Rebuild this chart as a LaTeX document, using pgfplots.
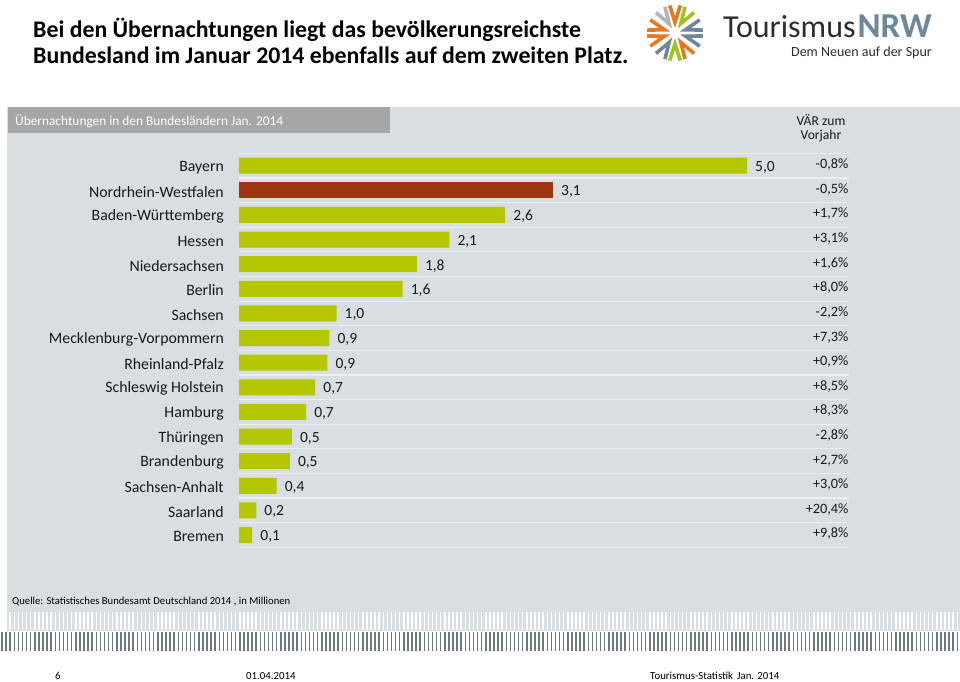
\documentclass[border=0pt]{standalone}
\usepackage{pgfplots}
\pgfplotsset{compat=1.18}
\usepackage{pgfplotstable}
\usepackage{fontspec}
\setmainfont{Carlito}
\definecolor{panelbg}{RGB}{217,222,226}
\definecolor{headgray}{RGB}{166,166,166}
\definecolor{barGreen}{RGB}{181,199,0}
\definecolor{barRust}{RGB}{160,52,16}
\definecolor{sepline}{RGB}{236,239,241}
\definecolor{stripedark}{RGB}{110,122,130}
\definecolor{textdark}{RGB}{25,25,25}
\definecolor{slate}{RGB}{110,135,155}
\definecolor{logogray}{RGB}{45,45,45}
\definecolor{logoorange}{RGB}{232,120,30}
\definecolor{logogreen}{RGB}{160,195,30}
\definecolor{logolight}{RGB}{175,180,185}

\pgfplotstableread[col sep=semicolon,row sep=\\]{
idx;name;val;lab;chg\\
0;Bayern;5.00;5,0;-0,8\%\\
1;Nordrhein-Westfalen;3.09;3,1;-0,5\%\\
2;Baden-Württemberg;2.62;2,6;+1,7\%\\
3;Hessen;2.07;2,1;+3,1\%\\
4;Niedersachsen;1.75;1,8;+1,6\%\\
5;Berlin;1.61;1,6;+8,0\%\\
6;Sachsen;0.96;1,0;-2,2\%\\
7;Mecklenburg-Vorpommern;0.89;0,9;+7,3\%\\
8;Rheinland-Pfalz;0.87;0,9;+0,9\%\\
9;Schleswig Holstein;0.75;0,7;+8,5\%\\
10;Hamburg;0.66;0,7;+8,3\%\\
11;Thüringen;0.52;0,5;-2,8\%\\
12;Brandenburg;0.50;0,5;+2,7\%\\
13;Sachsen-Anhalt;0.37;0,4;+3,0\%\\
14;Saarland;0.17;0,2;+20,4\%\\
15;Bremen;0.13;0,1;+9,8\%\\
}\data

\begin{document}
\begin{tikzpicture}
\begin{scope}[x=1pt,y=-1pt]
\fill[white] (0,0) rectangle (960,681);
\fill[panelbg] (7,107) rectangle (960,631);
\fill[headgray] (8,107) rectangle (390,133);
\foreach \i in {0,...,233} {
  \draw[white, line width=1.5pt] ({2+\i*4.1},612) -- ++(0,18);
  \draw[stripedark, line width=1.5pt] ({2+\i*4.1},632) -- ++(0,19);
}
% title
\node[anchor=base west, inner sep=0pt, font=\bfseries\fontsize{23.8}{27}\selectfont, text=black] at (33,37) {Bei den Übernachtungen liegt das bevölkerungsreichste};
\node[anchor=base west, inner sep=0pt, font=\bfseries\fontsize{23.8}{27}\selectfont, text=black] at (33,63) {Bundesland im Januar 2014 ebenfalls auf dem zweiten Platz.};
% logo
\foreach \a/\c in {90/logoorange,122/logolight,58/logogreen,163/logoorange,197/logoorange,17/slate,343/slate,238/slate,270/logogreen,302/logoorange} {
  \draw[\c, line width=3.6pt, line join=miter]
    ({675+28*cos(\a+11)},{33-28*sin(\a+11)}) -- ({675+11*cos(\a)},{33-11*sin(\a)}) -- ({675+28*cos(\a-11)},{33-28*sin(\a-11)});
}
\node[anchor=base east, inner sep=0pt, text=logogray] at (932,37) {\begin{tabular}[t]{@{}r@{}}{\fontsize{32}{32}\selectfont Tourismus\hspace{2pt}{\bfseries\fontsize{35}{35}\selectfont\color{slate}NRW}}\\[5.9pt]{\fontsize{14}{14}\selectfont Dem Neuen auf der Spur\hspace{2pt}}\end{tabular}};
% header
\node[anchor=base west, inner sep=0pt, font=\fontsize{13.35}{15}\selectfont, text=white] at (15,125) {Übernachtungen in den Bundesländern Jan. 2014};
\node[anchor=base, inner sep=0pt, font=\fontsize{13.6}{15}\selectfont, text=textdark] at (821,125) {VÄR zum};
\node[anchor=base, inner sep=0pt, font=\fontsize{13.6}{15}\selectfont, text=textdark] at (821,139) {Vorjahr};
% source and footer
\node[anchor=base west, inner sep=0pt, font=\fontsize{10.65}{12}\selectfont, text=black] at (12,604) {Quelle: Statistisches Bundesamt Deutschland 2014 , in Millionen};
\node[anchor=base west, inner sep=0pt, font=\fontsize{10.85}{12}\selectfont, text=black] at (55,679) {6};
\node[anchor=base west, inner sep=0pt, font=\fontsize{10.85}{12}\selectfont, text=black] at (246,679) {01.04.2014};
\node[anchor=base west, inner sep=0pt, font=\fontsize{10.85}{12}\selectfont, text=black] at (650,679) {Tourismus-Statistik\hspace{4pt}Jan. 2014};
\end{scope}

\begin{axis}[
  at={(239pt,-547.3pt)}, anchor=south west,
  scale only axis, width=609.6pt, height=393.9pt,
  xmin=0, xmax=6, ymin=-0.5, ymax=15.5, y dir=reverse,
  xbar, bar width=16pt, bar shift=0pt,
  axis line style={draw=none},
  xtick=\empty,
  ytick={0,...,15},
  yticklabels from table={\data}{name},
  major tick length=0pt, minor tick length=0pt,
  minor ytick={-0.5,0.5,...,15.5},
  yminorgrids=true,
  minor grid style={draw=sepline, line width=1.2pt},
  yticklabel style={font=\fontsize{15.8}{17}\selectfont, text=textdark, anchor=east, inner sep=0pt, xshift=-15pt, yshift=-1.5pt},
  nodes near coords, point meta=explicit symbolic,
  every node near coord/.append style={font=\fontsize{15.5}{17}\selectfont, text=textdark, anchor=west, inner sep=0pt, xshift=8pt, yshift=-1.5pt},
  clip=false,
]
\addplot[fill=barGreen, draw=none, skip coords between index={1}{2}] table[x=val,y=idx,meta=lab]{\data};
\addplot[fill=barRust, draw=none, skip coords between index={0}{1}, skip coords between index={2}{16}] table[x=val,y=idx,meta=lab]{\data};
\end{axis}

\begin{axis}[
  at={(239pt,-547.3pt)}, anchor=south west,
  scale only axis, width=609.6pt, height=393.9pt,
  xmin=0, xmax=6, ymin=-0.5, ymax=15.5, y dir=reverse,
  axis line style={draw=none}, xtick=\empty,
  ytick={0,...,15},
  yticklabels from table={\data}{chg},
  yticklabel pos=right, major tick length=0pt,
  yticklabel style={anchor=east, inner sep=0pt, font=\fontsize{14.3}{16}\selectfont, text=textdark, yshift=1pt},
]
\addplot[draw=none, forget plot] table[x=val,y=idx]{\data};
\end{axis}
\pgfresetboundingbox
\path[use as bounding box] (0pt,0pt) rectangle (960pt,-681pt);
\end{tikzpicture}
\end{document}
